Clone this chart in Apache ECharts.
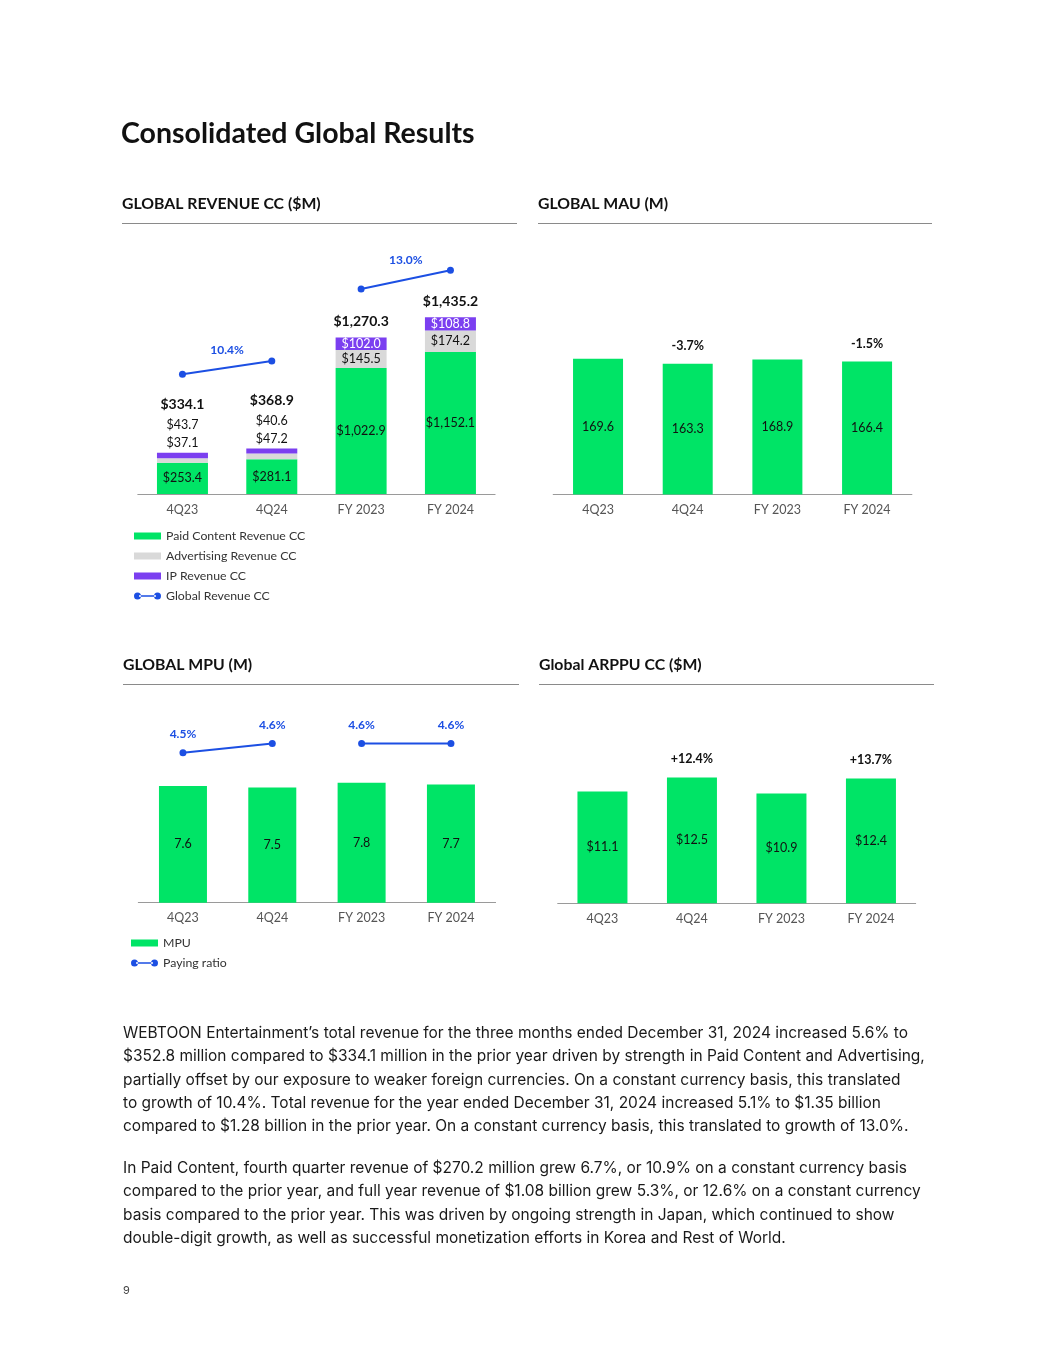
<!DOCTYPE html>
<html><head><meta charset="utf-8">
<script src="https://cdn.jsdelivr.net/npm/echarts@6/dist/echarts.min.js"></script>
<style>html,body{margin:0;padding:0;background:#fff}#c{width:1055px;height:1365px}</style>
</head><body><div id="c"></div>
<script>
// ---- data ----
const categories = ['4Q23', '4Q24', 'FY 2023', 'FY 2024'];
const paidContent = [253.4, 281.1, 1022.9, 1152.1];
const advertising = [37.1, 47.2, 145.5, 174.2];
const ipRevenue = [43.7, 40.6, 102.0, 108.8];
const revenueTotal = [334.1, 368.9, 1270.3, 1435.2];
const revenueLineLevel = [972, 1080, 1664, 1816]; // connector heights read on the revenue scale
const revenueGrowth = ['10.4%', '13.0%'];
const mau = [169.6, 163.3, 168.9, 166.4];
const mauGrowth = ['', '-3.7%', '', '-1.5%'];
const mpu = [7.6, 7.5, 7.8, 7.7];
const payingRatio = [4.5, 4.6, 4.6, 4.6];
const arppu = [11.1, 12.5, 10.9, 12.4];
const arppuGrowth = ['', '+12.4%', '', '+13.7%'];

const para1 = [
 'WEBTOON Entertainment\u2019s total revenue for the three months ended December 31, 2024 increased 5.6% to',
 '$352.8 million compared to $334.1 million in the prior year driven by strength in Paid Content and Advertising,',
 'partially offset by our exposure to weaker foreign currencies. On a constant currency basis, this translated',
 'to growth of 10.4%. Total revenue for the year ended December 31, 2024 increased 5.1% to $1.35 billion',
 'compared to $1.28 billion in the prior year. On a constant currency basis, this translated to growth of 13.0%.'
];
const para2 = [
 'In Paid Content, fourth quarter revenue of $270.2 million grew 6.7%, or 10.9% on a constant currency basis',
 'compared to the prior year, and full year revenue of $1.08 billion grew 5.3%, or 12.6% on a constant currency',
 'basis compared to the prior year. This was driven by ongoing strength in Japan, which continued to show',
 'double-digit growth, as well as successful monetization efforts in Korea and Rest of World.'
];

// ---- style ----
const GREEN = '#00e466', GRAY = '#d9d9d9', PURPLE = '#7b3ff0', BLUE = '#1c4fe3', DARK = '#111';
const FF = 'Lato, "Noto Sans", sans-serif';
const money = v => '$' + v.toLocaleString('en-US', {minimumFractionDigits: 1, maximumFractionDigits: 1});
const lineIcon = 'path://M0,3.5a3.5,3.5 0 1,0 7,0a3.5,3.5 0 1,0 -7,0ZM5,2.8H22V4.2H5ZM20,3.5a3.5,3.5 0 1,0 7,0a3.5,3.5 0 1,0 -7,0Z';

function xAxis(i) {
  return {type: 'category', gridIndex: i, data: categories,
    axisLine: {lineStyle: {color: '#9a9a9a', width: 1}}, axisTick: {show: false},
    axisLabel: {color: '#555', fontSize: 12.5, margin: 9, fontFamily: FF}};
}
function yAxis(i, min, max) {
  return {type: 'value', gridIndex: i, min: min, max: max, show: false, splitLine: {show: false}};
}

const isQ = i => i < 2;

const series = [
  // chart 1: revenue
  {name: 'Paid Content Revenue CC', type: 'bar', xAxisIndex: 0, yAxisIndex: 0, stack: 'rev', barWidth: 51,
   itemStyle: {color: GREEN}, data: paidContent,
   label: {show: true, position: 'inside', color: DARK, fontSize: 12.5, fontFamily: FF, formatter: p => money(p.value)}},
  {name: 'Advertising Revenue CC', type: 'bar', xAxisIndex: 0, yAxisIndex: 0, stack: 'rev', barWidth: 51,
   itemStyle: {color: GRAY},
   data: advertising.map((v, i) => ({value: v, label: {show: !isQ(i)}})),
   label: {position: 'inside', color: DARK, fontSize: 12.5, fontFamily: FF, formatter: p => money(p.value)}},
  {name: 'IP Revenue CC', type: 'bar', xAxisIndex: 0, yAxisIndex: 0, stack: 'rev', barWidth: 51,
   itemStyle: {color: PURPLE},
   data: ipRevenue.map((v, i) => ({value: v, label: {show: !isQ(i)}})),
   label: {position: 'inside', color: '#fff', fontSize: 12.5, fontFamily: FF, formatter: p => money(p.value)}},
  {name: 'revTotal', type: 'bar', xAxisIndex: 0, yAxisIndex: 0, stack: 'rev', barWidth: 51,
   itemStyle: {color: 'transparent'}, silent: true,
   data: revenueTotal.map((v, i) => ({value: 0, label: {distance: isQ(i) ? 1 : 5,
     formatter: isQ(i) ? '{t|' + money(v) + '}\n{n|' + money(ipRevenue[i]) + '}\n{n|' + money(advertising[i]) + '}'
                       : '{t|' + money(v) + '}'}})),
   label: {show: true, position: 'top', fontFamily: FF,
     rich: {t: {fontSize: 14, fontWeight: 'bold', color: DARK, lineHeight: 22, fontFamily: FF},
            n: {fontSize: 12.5, color: DARK, lineHeight: 18, fontFamily: FF}}}},
  {name: 'Global Revenue CC', type: 'line', xAxisIndex: 0, yAxisIndex: 0, symbol: 'circle', symbolSize: 7,
   itemStyle: {color: BLUE}, lineStyle: {color: BLUE, width: 2}, data: [revenueLineLevel[0], revenueLineLevel[1], null, null]},
  {name: 'Global Revenue CC', type: 'line', xAxisIndex: 0, yAxisIndex: 0, symbol: 'circle', symbolSize: 7,
   itemStyle: {color: BLUE}, lineStyle: {color: BLUE, width: 2}, data: [null, null, revenueLineLevel[2], revenueLineLevel[3]]},

  // chart 2: MAU
  {name: 'MAU', type: 'bar', xAxisIndex: 1, yAxisIndex: 1, stack: 'mau', barWidth: 50,
   itemStyle: {color: GREEN}, data: mau,
   label: {show: true, position: 'inside', color: DARK, fontSize: 12.5, fontFamily: FF, formatter: p => p.value.toFixed(1)}},
  {name: 'mauGrowth', type: 'bar', xAxisIndex: 1, yAxisIndex: 1, stack: 'mau', barWidth: 50,
   itemStyle: {color: 'transparent'}, silent: true, data: mauGrowth.map(() => 0),
   label: {show: true, position: 'top', distance: 11, color: DARK, fontSize: 12.5, fontWeight: 'bold', fontFamily: FF,
     formatter: p => mauGrowth[p.dataIndex]}},

  // chart 3: MPU
  {name: 'MPU', type: 'bar', xAxisIndex: 2, yAxisIndex: 2, barWidth: 48,
   itemStyle: {color: GREEN}, data: mpu,
   label: {show: true, position: 'inside', color: DARK, fontSize: 12.5, fontFamily: FF, formatter: p => p.value.toFixed(1)}},
  {name: 'Paying ratio', type: 'line', xAxisIndex: 2, yAxisIndex: 3, symbol: 'circle', symbolSize: 7,
   itemStyle: {color: BLUE}, lineStyle: {color: BLUE, width: 2}, data: [payingRatio[0], payingRatio[1], null, null],
   label: {show: true, position: 'top', distance: 9, color: BLUE, fontSize: 12, fontWeight: 'bold', fontFamily: FF, formatter: p => p.value.toFixed(1) + '%'}},
  {name: 'Paying ratio', type: 'line', xAxisIndex: 2, yAxisIndex: 3, symbol: 'circle', symbolSize: 7,
   itemStyle: {color: BLUE}, lineStyle: {color: BLUE, width: 2}, data: [null, null, payingRatio[2], payingRatio[3]],
   label: {show: true, position: 'top', distance: 9, color: BLUE, fontSize: 12, fontWeight: 'bold', fontFamily: FF, formatter: p => p.value.toFixed(1) + '%'}},

  // chart 4: ARPPU
  {name: 'ARPPU', type: 'bar', xAxisIndex: 3, yAxisIndex: 4, stack: 'arppu', barWidth: 50,
   itemStyle: {color: GREEN}, data: arppu,
   label: {show: true, position: 'inside', color: DARK, fontSize: 12.5, fontFamily: FF, formatter: p => money(p.value)}},
  {name: 'arppuGrowth', type: 'bar', xAxisIndex: 3, yAxisIndex: 4, stack: 'arppu', barWidth: 50,
   itemStyle: {color: 'transparent'}, silent: true, data: arppuGrowth.map(() => 0),
   label: {show: true, position: 'top', distance: 12, color: DARK, fontSize: 12.5, fontWeight: 'bold', fontFamily: FF,
     formatter: p => arppuGrowth[p.dataIndex]}}
];

function staticGraphics() {
  const g = [];
  g.push({type: 'text', x: 121, y: 134, style: {text: 'Consolidated Global Results', font: 'bold 28.5px ' + FF, fill: '#111', verticalAlign: 'middle'}});
  const heads = [['GLOBAL REVENUE CC ($M)', 122, 204, 517], ['GLOBAL MAU (M)', 538, 204, 932],
                 ['GLOBAL MPU (M)', 123, 665, 519], ['Global ARPPU CC ($M)', 539, 665, 934]];
  heads.forEach(h => {
    g.push({type: 'text', x: h[1], y: h[2], style: {text: h[0], font: 'bold 15.8px ' + FF, fill: '#111', verticalAlign: 'middle'}});
    g.push({type: 'line', shape: {x1: h[1], y1: h[2] + 19.5, x2: h[3], y2: h[2] + 19.5}, style: {stroke: '#8a8a8a', lineWidth: 1}});
  });
  g.push({type: 'text', x: 123, y: 1021.5, style: {text: para1.join('\n'), font: '15.5px Inter, sans-serif', fill: '#1a1a1a', lineHeight: 23.4, verticalAlign: 'top'}});
  g.push({type: 'text', x: 123, y: 1156.5, style: {text: para2.join('\n'), font: '15.5px Inter, sans-serif', fill: '#1a1a1a', lineHeight: 23.4, verticalAlign: 'top'}});
  g.push({type: 'text', x: 123, y: 1291, style: {text: '9', font: '11px Inter, sans-serif', fill: '#444', verticalAlign: 'middle'}});
  return g;
}

const chart = echarts.init(document.getElementById('c'), null, {renderer: 'canvas'});
chart.setOption({
  animation: false,
  backgroundColor: '#fff',
  grid: [
    {left: 137.8, top: 247.6, width: 357.3, height: 246.4},
    {left: 553.2, top: 294.5, width: 358.7, height: 200},
    {left: 138.3, top: 718.3, width: 357.3, height: 184.4},
    {left: 557.7, top: 722, width: 358, height: 181.3}
  ],
  xAxis: [xAxis(0), xAxis(1), xAxis(2), xAxis(3)],
  yAxis: [yAxis(0, 0, 2000), yAxis(1, 0, 250), yAxis(2, 0, 12), yAxis(2, 2.89, 4.87), yAxis(3, 0, 18)],
  legend: [
    {orient: 'vertical', left: 129, top: 524, itemWidth: 27, itemHeight: 7, itemGap: 6,
     data: [{name: 'Paid Content Revenue CC', icon: 'rect'}, {name: 'Advertising Revenue CC', icon: 'rect'},
            {name: 'IP Revenue CC', icon: 'rect'}, {name: 'Global Revenue CC', icon: lineIcon}],
     textStyle: {fontSize: 12.3, color: '#333', fontFamily: FF, lineHeight: 14}, selectedMode: false},
    {orient: 'vertical', left: 126, top: 931, itemWidth: 27, itemHeight: 7, itemGap: 6,
     data: [{name: 'MPU', icon: 'rect'}, {name: 'Paying ratio', icon: lineIcon}],
     textStyle: {fontSize: 12.3, color: '#333', fontFamily: FF, lineHeight: 14}, selectedMode: false}
  ],
  series: series,
  graphic: staticGraphics()
});

// growth labels above the revenue connectors, placed via the axes
const g = staticGraphics();
[[0, 1, 17], [2, 3, 20]].forEach((pair, k) => {
  const a = chart.convertToPixel({xAxisIndex: 0, yAxisIndex: 0}, [pair[0], revenueLineLevel[pair[0]]]);
  const b = chart.convertToPixel({xAxisIndex: 0, yAxisIndex: 0}, [pair[1], revenueLineLevel[pair[1]]]);
  g.push({type: 'text', x: (a[0] + b[0]) / 2, y: (a[1] + b[1]) / 2 - pair[2],
    style: {text: revenueGrowth[k], font: 'bold 12px ' + FF, fill: BLUE, align: 'center', verticalAlign: 'middle'}});
});
chart.setOption({graphic: g}, {replaceMerge: ['graphic']});
</script></body></html>
